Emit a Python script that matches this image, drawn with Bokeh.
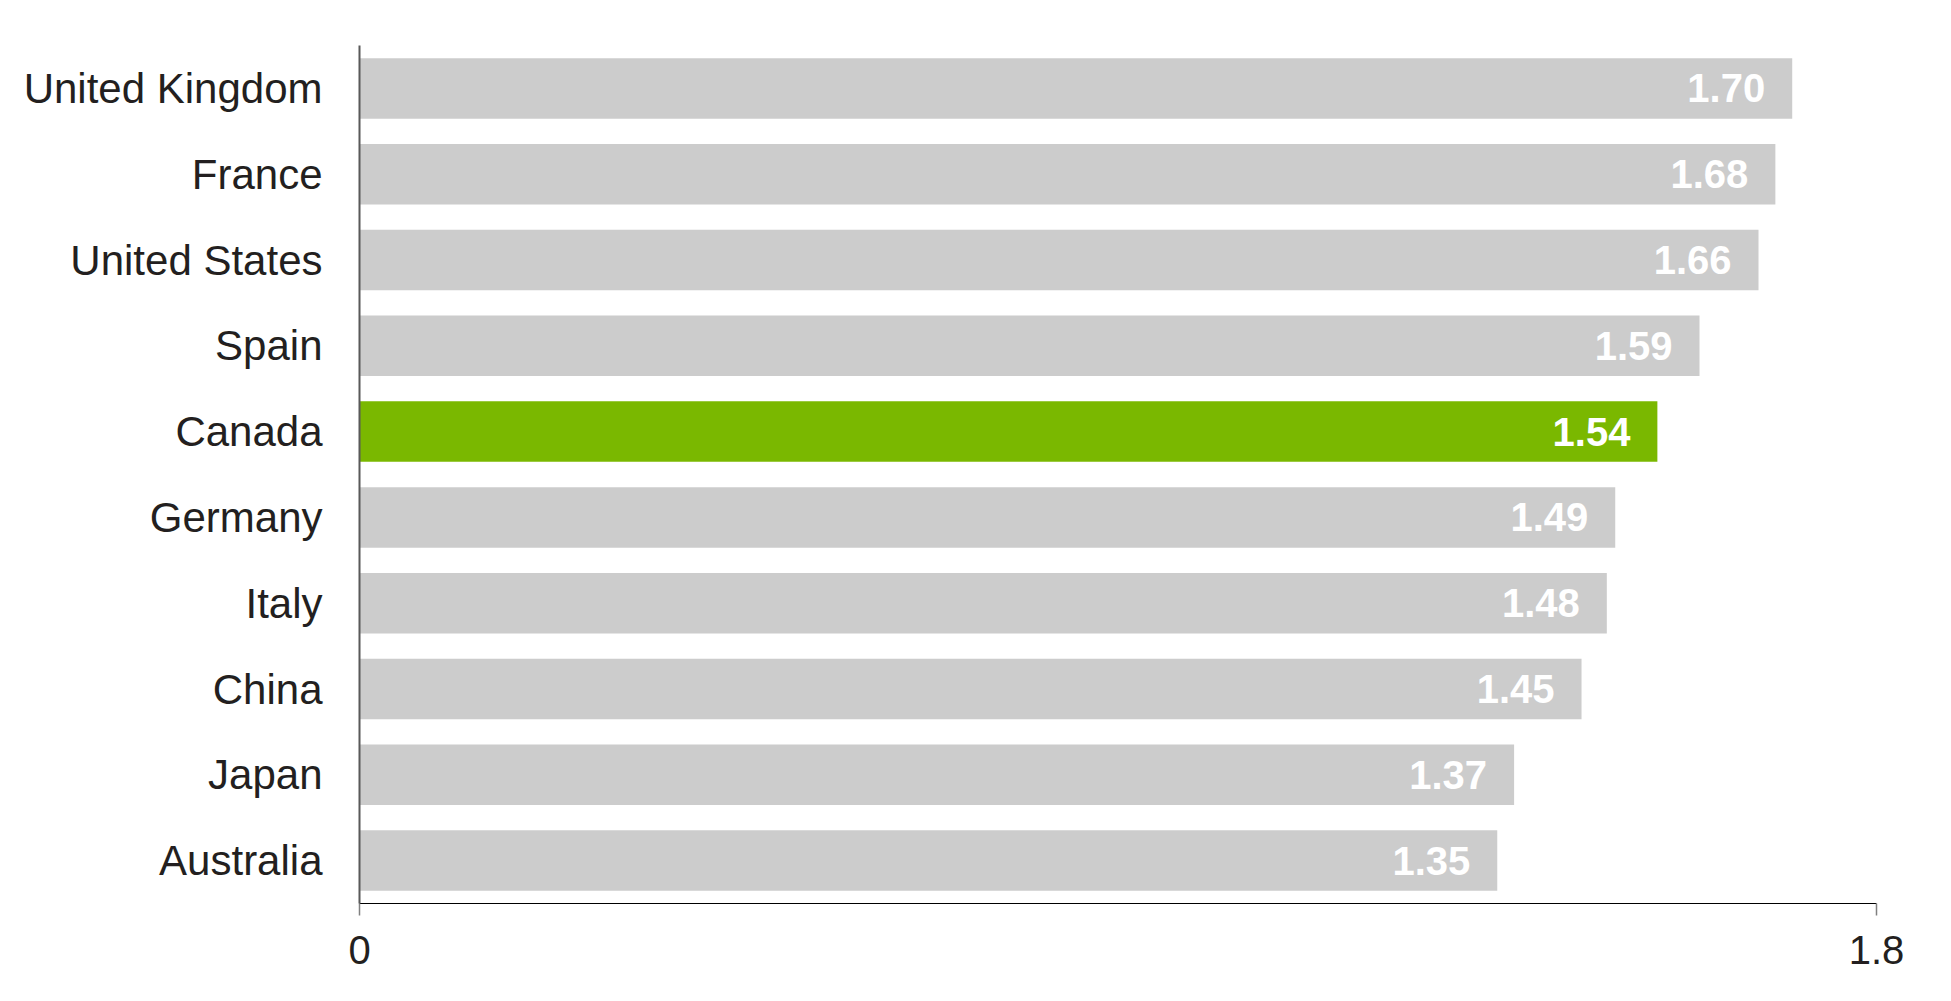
from bokeh.plotting import figure
from bokeh.models import FactorRange, Range1d, FixedTicker, ColumnDataSource
from bokeh.core.properties import value
from bokeh.embed import file_html
from bokeh.resources import INLINE

countries = ["United Kingdom", "France", "United States", "Spain", "Canada",
             "Germany", "Italy", "China", "Japan", "Australia"]
values = [1.70, 1.68, 1.66, 1.59, 1.54, 1.49, 1.48, 1.45, 1.37, 1.35]
labels = ["1.70", "1.68", "1.66", "1.59", "1.54", "1.49", "1.48", "1.45", "1.37", "1.35"]
highlight = "Canada"
x_ticks = [0, 1.8]
x_tick_labels = ["0", "1.8"]

colors = ["#7AB800" if c == highlight else "#CCCCCC" for c in countries]
src = ColumnDataSource(dict(country=countries, value=values, label=labels, color=colors))

p = figure(
    output_backend="svg", toolbar_location=None,
    y_range=FactorRange(factors=list(reversed(countries)), range_padding=0),
    x_range=Range1d(0, 1.8),
    frame_width=1517, frame_height=858,
    min_border_left=359, min_border_top=45, min_border_right=67, min_border_bottom=90,
)
p.hbar(y="country", right="value", left=0, height=0.705, source=src,
       fill_color="color", line_color=None)
p.text(x="value", y="country", text="label", source=src, x_offset=-27,
       text_align="right", text_baseline="middle", text_color="white",
       text_font=value("Liberation Sans"), text_font_style="bold",
       text_font_size="40px")

p.xgrid.visible = False
p.ygrid.visible = False
p.outline_line_color = None
p.background_fill_color = "white"
p.border_fill_color = "white"

xa = p.xaxis[0]
xa.ticker = FixedTicker(ticks=x_ticks)
xa.major_label_overrides = {t: l for t, l in zip(x_ticks, x_tick_labels)}
xa.minor_tick_line_color = None
xa.major_tick_out = 12
xa.major_tick_in = 0
xa.major_tick_line_color = "#808080"
xa.major_tick_line_width = 1.5
xa.axis_line_color = "black"
xa.axis_line_width = 1
xa.major_label_text_font = "Liberation Sans"
xa.major_label_text_font_size = "40px"
xa.major_label_text_color = "#231F20"
xa.major_label_standoff = 20

ya = p.yaxis[0]
ya.major_tick_line_color = None
ya.minor_tick_line_color = None
ya.major_tick_out = 0
ya.major_tick_in = 0
ya.axis_line_color = "#595959"
ya.axis_line_width = 2
ya.major_label_text_font = "Liberation Sans"
ya.major_label_text_font_size = "42px"
ya.major_label_text_color = "#231F20"
ya.major_label_standoff = 37

open("out.html", "w").write(file_html(p, INLINE))
